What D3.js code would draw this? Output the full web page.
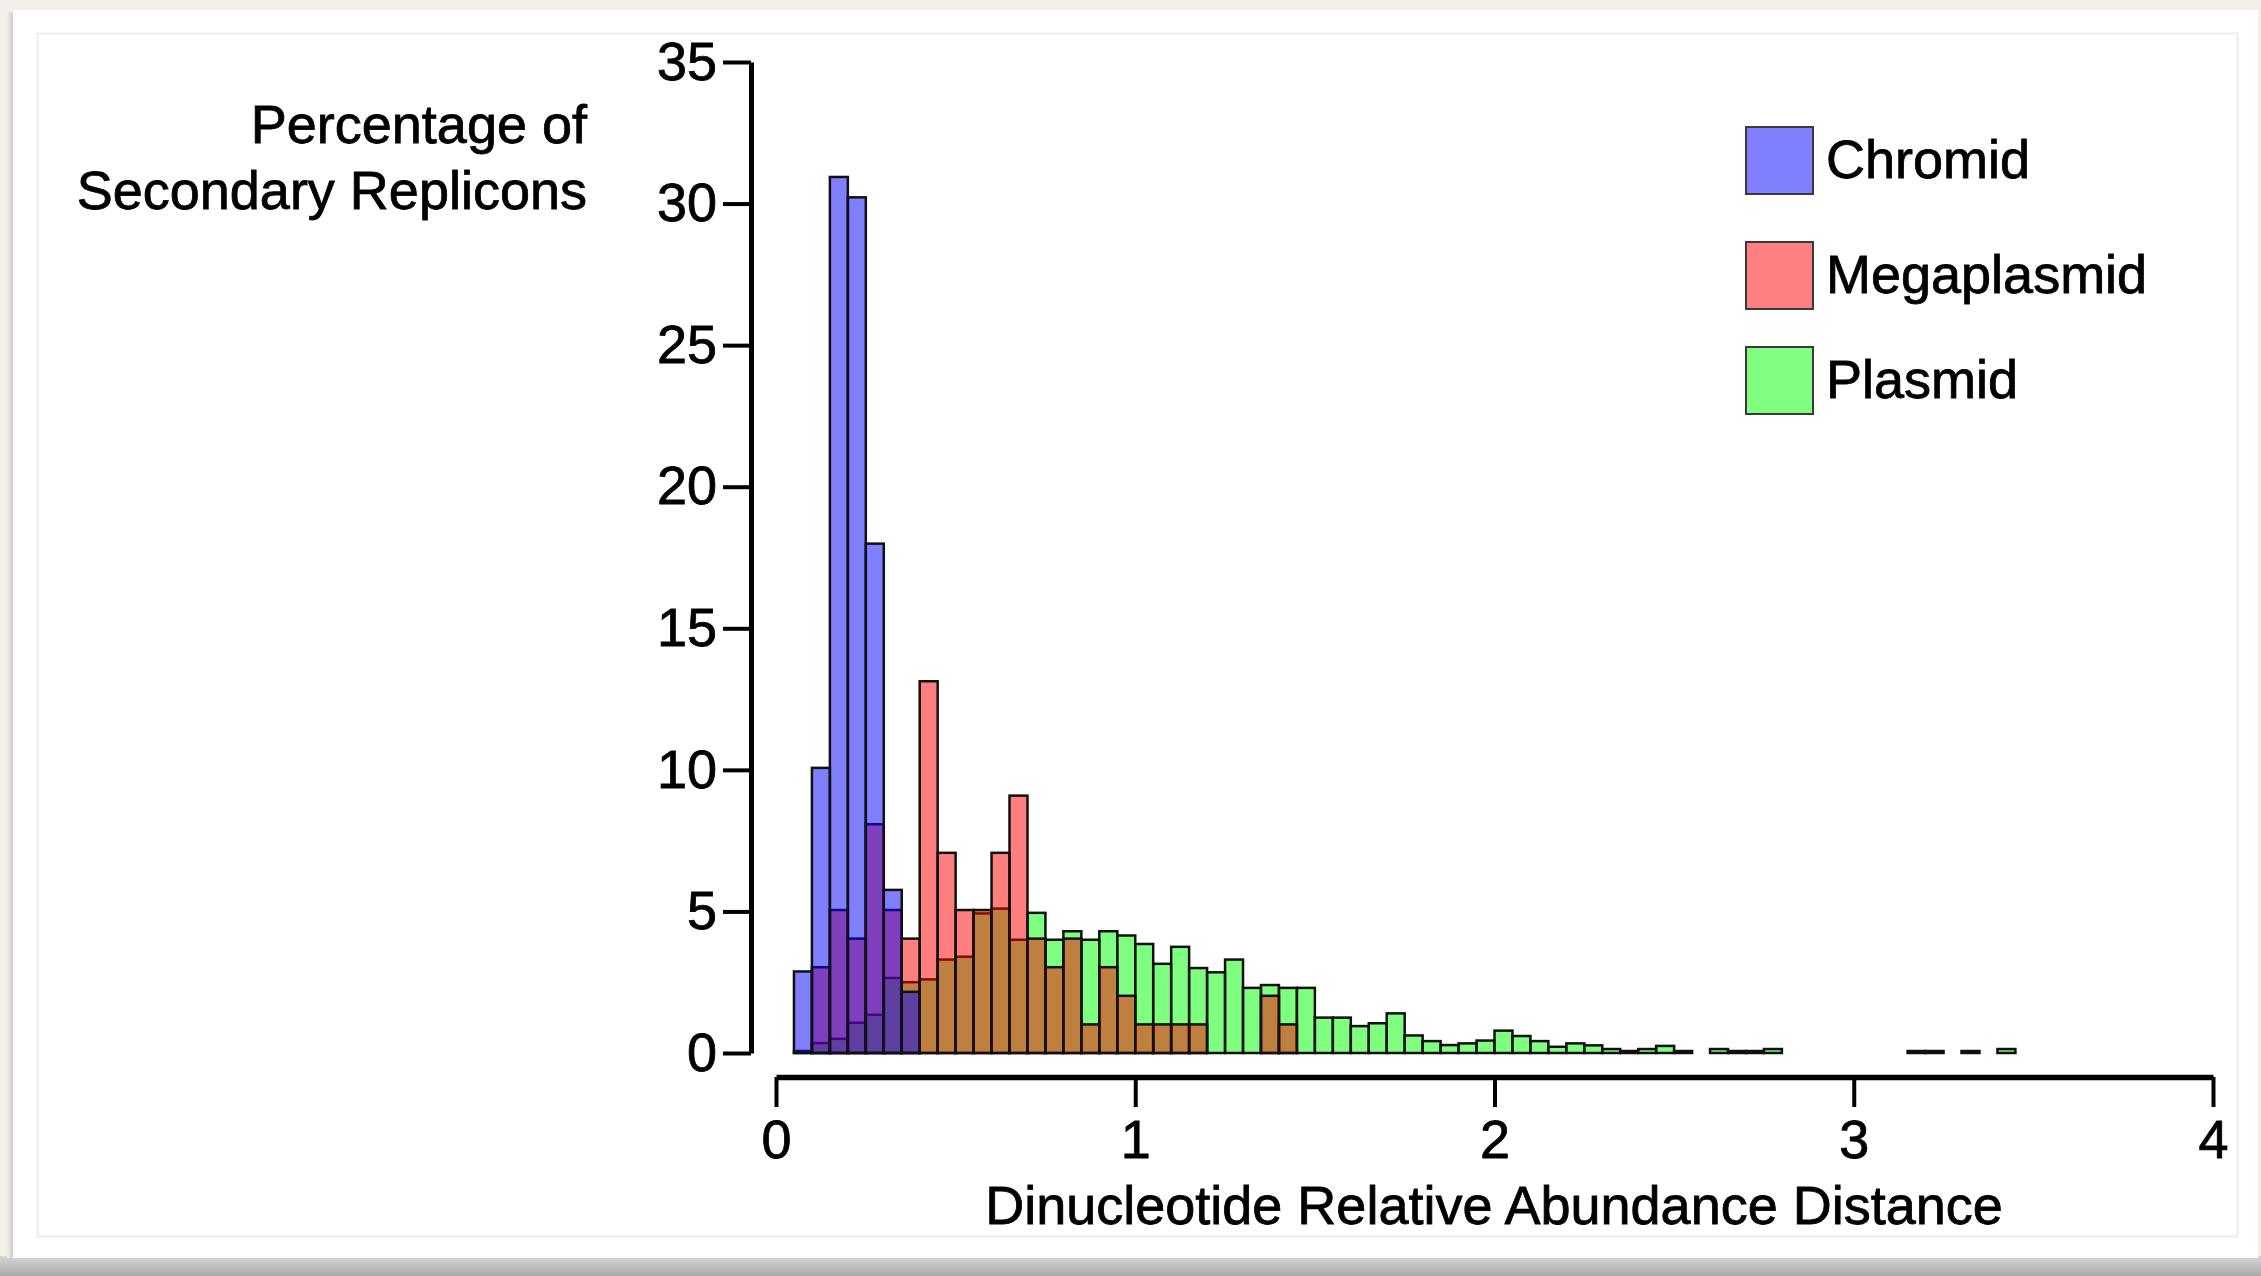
<!DOCTYPE html>
<html>
<head>
<meta charset="utf-8">
<script src="https://cdn.jsdelivr.net/npm/d3@7"></script>
<style>
  body { margin: 0; background: #f2efe9; }
  svg { display: block; }
</style>
</head>
<body>
<svg width="2261" height="1276"></svg>
<script>
// histogram bins, 0.05 wide, starting at 0
const binWidth = 0.05;
const xTicks = [0, 1, 2, 3, 4];
const yTicks = [0, 5, 10, 15, 20, 25, 30, 35];
const seriesNames = ['Chromid', 'Megaplasmid', 'Plasmid'];

// percentage of replicons per bin
const chromid = [0, 2.88, 10.07, 30.94, 30.22, 17.99, 5.76, 2.16];
const megaplasmid = [
  0, 0, 3.03, 5.05, 4.04, 8.08, 5.05, 4.04, 13.13, 7.07,
  5.05, 5.05, 7.07, 9.09, 4.04, 3.03, 4.04, 1.01, 3.03, 2.02,
  1.01, 1.01, 1.01, 1.01, 0, 0, 0, 2.02, 1.01,
];
const plasmid = [
  0, 0.07, 0.35, 0.5, 1.07, 1.35, 2.65, 2.5, 2.6, 3.3,
  3.4, 4.93, 5.1, 4.0, 4.95, 4.0, 4.3, 4.0, 4.3, 4.15,
  3.85, 3.15, 3.75, 3.0, 2.85, 3.3, 2.3, 2.4, 2.3, 2.3,
  1.25, 1.25, 0.95, 1.05, 1.4, 0.62, 0.42, 0.28, 0.34, 0.44,
  0.79, 0.6, 0.42, 0.22, 0.34, 0.27, 0.14, 0.07, 0.14, 0.25,
  0.07, 0, 0.14, 0.07, 0.07, 0.14, 0, 0, 0, 0,
  0, 0, 0, 0.07, 0.07, 0, 0.07, 0, 0.14,
];

const fills = {
  Chromid: 'rgba(0,0,255,0.5)',
  Megaplasmid: 'rgba(255,0,0,0.5)',
  Plasmid: 'rgba(0,255,0,0.5)',
};
const swatchFills = { Chromid: '#8080ff', Megaplasmid: '#ff8080', Plasmid: '#80ff80' };
const font = '"Liberation Sans", Arial, Helvetica, sans-serif';

const svg = d3.select('svg');

// page frame (card on beige paper)
const defs = svg.append('defs');
const shadow = defs.append('linearGradient').attr('id', 'bottomShade').attr('x1', 0).attr('y1', 0).attr('x2', 0).attr('y2', 1);
shadow.append('stop').attr('offset', 0).attr('stop-color', '#d6d6d6');
shadow.append('stop').attr('offset', 1).attr('stop-color', '#a9a9a9');
const leftShade = defs.append('linearGradient').attr('id', 'leftShade');
leftShade.append('stop').attr('offset', 0).attr('stop-color', '#f2efe9');
leftShade.append('stop').attr('offset', 1).attr('stop-color', '#c9c9c6');

svg.append('rect').attr('width', 2261).attr('height', 1276).attr('fill', '#f2efe9');
svg.append('rect').attr('x', 0).attr('y', 1256).attr('width', 2261).attr('height', 20).attr('fill', 'url(#bottomShade)');
svg.append('rect').attr('x', 7).attr('y', 12).attr('width', 7).attr('height', 1246).attr('fill', 'url(#leftShade)');
svg.append('rect').attr('x', 13).attr('y', 10).attr('width', 2245).attr('height', 1248).attr('fill', '#fff');
svg.append('rect')
  .attr('x', 37.5).attr('y', 33.5).attr('width', 2200).attr('height', 1203)
  .attr('fill', 'none').attr('stroke', '#ededed').attr('stroke-width', 2);

// scales
const x = d3.scaleLinear().domain([0, 4]).range([776, 2213]);
const y = d3.scaleLinear().domain([0, 35]).range([1053, 62]);

// bars: plasmid at the back, chromid on top
const series = [
  { name: 'Plasmid', values: plasmid },
  { name: 'Megaplasmid', values: megaplasmid },
  { name: 'Chromid', values: chromid },
];
series.forEach((s) => {
  svg.append('g')
    .attr('class', 'bars ' + s.name)
    .selectAll('rect')
    .data(s.values.map((v, i) => ({ i: i, v: v })).filter((d) => d.v > 0))
    .enter()
    .append('rect')
    .attr('x', (d) => x(d.i * binWidth))
    .attr('width', (d) => x((d.i + 1) * binWidth) - x(d.i * binWidth))
    .attr('y', (d) => y(d.v))
    .attr('height', (d) => y(0) - y(d.v))
    .attr('fill', fills[s.name])
    .attr('stroke', '#111')
    .attr('stroke-width', 2.5);
});

// x axis, offset below the baseline
const xAxis = svg.append('g')
  .attr('transform', 'translate(0,1077)')
  .call(d3.axisBottom(x).tickValues(xTicks).tickFormat(d3.format('d'))
    .tickSize(30).tickSizeOuter(0).tickPadding(13));
xAxis.select('.domain').attr('stroke-width', 5.5);
xAxis.selectAll('.tick line').attr('stroke-width', 4);
xAxis.selectAll('text').attr('font-size', 54).attr('font-family', font).attr('fill', '#000')
  .attr('stroke', '#000').attr('stroke-width', 0.8);

// y axis, offset left of x = 0
const yAxis = svg.append('g')
  .attr('transform', 'translate(751,0)')
  .call(d3.axisLeft(y).tickValues(yTicks).tickSize(28).tickSizeOuter(0).tickPadding(6));
yAxis.select('.domain').attr('stroke-width', 5);
yAxis.selectAll('.tick line').attr('stroke-width', 4);
yAxis.selectAll('text').attr('font-size', 54).attr('font-family', font).attr('fill', '#000')
  .attr('stroke', '#000').attr('stroke-width', 0.8);

// axis titles
svg.append('text')
  .attr('x', 1494).attr('y', 1224)
  .attr('text-anchor', 'middle')
  .attr('font-size', 54).attr('font-family', font)
  .attr('stroke', '#000').attr('stroke-width', 0.8)
  .text('Dinucleotide Relative Abundance Distance');

const yTitle = svg.append('text')
  .attr('text-anchor', 'end')
  .attr('font-size', 54).attr('font-family', font)
  .attr('stroke', '#000').attr('stroke-width', 0.8);
yTitle.append('tspan').attr('x', 587).attr('y', 143).text('Percentage of');
yTitle.append('tspan').attr('x', 587).attr('y', 209).text('Secondary Replicons');

// legend
const legendY = { Chromid: 127, Megaplasmid: 242, Plasmid: 347 };
const legend = svg.append('g').attr('class', 'legend');
seriesNames.forEach((name) => {
  legend.append('rect')
    .attr('x', 1746).attr('y', legendY[name])
    .attr('width', 67).attr('height', 67)
    .attr('fill', swatchFills[name])
    .attr('stroke', '#3a3a3a').attr('stroke-width', 2);
  legend.append('text')
    .attr('x', 1826).attr('y', legendY[name] + 51)
    .attr('font-size', 54).attr('font-family', font)
    .attr('stroke', '#000').attr('stroke-width', 0.8)
    .text(name);
});
</script>
</body>
</html>
